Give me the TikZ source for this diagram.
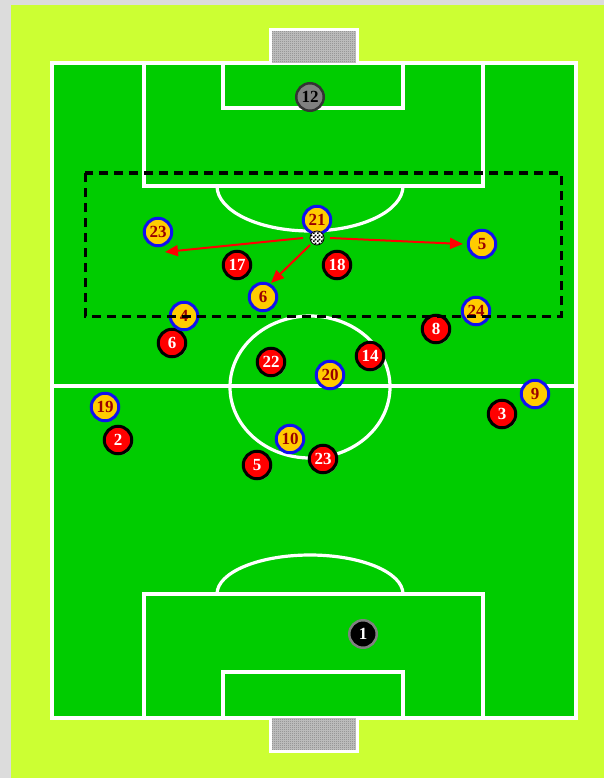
\documentclass[tikz,border=0pt]{standalone}
\usepackage{fontspec}
\setmainfont{Liberation Serif}
\usetikzlibrary{arrows.meta,patterns,shadows}
\pgfdeclarepatternformonly{finecheck}{\pgfqpoint{0pt}{0pt}}{\pgfqpoint{2pt}{2pt}}{\pgfqpoint{2pt}{2pt}}{%
  \pgfpathrectangle{\pgfqpoint{0pt}{0pt}}{\pgfqpoint{1pt}{1pt}}%
  \pgfpathrectangle{\pgfqpoint{1pt}{1pt}}{\pgfqpoint{1pt}{1pt}}%
  \pgfusepath{fill}}
\pgfdeclarepatternformonly{ballcheck}{\pgfqpoint{0pt}{0pt}}{\pgfqpoint{3.6pt}{3.6pt}}{\pgfqpoint{3.6pt}{3.6pt}}{%
  \pgfpathrectangle{\pgfqpoint{0pt}{0pt}}{\pgfqpoint{1.8pt}{1.8pt}}%
  \pgfpathrectangle{\pgfqpoint{1.8pt}{1.8pt}}{\pgfqpoint{1.8pt}{1.8pt}}%
  \pgfusepath{fill}}
\definecolor{bgout}{HTML}{DCDCDC}
\definecolor{bgyel}{HTML}{CCFF33}
\definecolor{pitch}{HTML}{00CC00}
\definecolor{ygold}{HTML}{FFCC00}
\definecolor{yblue}{HTML}{1010F0}
\definecolor{ynum}{HTML}{990000}
\definecolor{rred}{HTML}{FF0000}
\definecolor{netbase}{HTML}{C4C4C4}
\begin{document}
\begin{tikzpicture}[x=1pt,y=-1pt,
  fieldline/.style={draw=white,line width=3.2pt},
  player/.style={circle,minimum size=27.5pt,inner sep=0pt,line width=3pt,
    font=\fontsize{17}{17}\selectfont\bfseries},
  yp/.style={player,fill=ygold,draw=yblue,text=ynum},
  rp/.style={player,fill=rred,draw=black,text=white,
    drop shadow={shadow xshift=1.5pt,shadow yshift=-1.5pt,opacity=0.5}},
  gkgray/.style={player,fill=gray,draw=black!80,text=black,line width=2.5pt},
  gkblack/.style={player,fill=black,draw=gray,text=white,line width=2.5pt},
  pass/.style={draw=red,line width=2pt,-{Triangle[length=13pt,width=11pt]}},
  zone/.style={draw=black,line width=3pt,dash pattern=on 9pt off 6pt}]
\useasboundingbox (0,0) rectangle (604,778);
% backgrounds
\fill[bgout] (0,0) rectangle (604,778);
\fill[bgyel] (11,5) rectangle (604,778);
% pitch
\fill[pitch] (52,63) rectangle (576,718);
\draw[fieldline] (52,63) rectangle (576,718);
\draw[fieldline] (52,386) -- (576,386);
\draw[fieldline] (310,387) ellipse [x radius=80pt,y radius=71pt];
% top boxes
\draw[fieldline] (144,63) rectangle (483,186);
\draw[fieldline] (223,63) rectangle (403,108);
\draw[fieldline] (217,186) arc[start angle=180,end angle=360,x radius=93pt,y radius=45pt];
% bottom boxes
\draw[fieldline] (144,594) rectangle (483,718);
\draw[fieldline] (223,672) rectangle (403,718);
\draw[fieldline] (217,594) arc[start angle=180,end angle=0,x radius=93pt,y radius=39pt];
% goals
\fill[netbase] (270,30) rectangle (357,63);
\fill[pattern=finecheck,pattern color=gray] (270,30) rectangle (357,63);
\draw[white,line width=3pt] (270,63) -- (270,30) -- (357,30) -- (357,63);
\fill[netbase] (270,718) rectangle (357,751);
\fill[pattern=finecheck,pattern color=gray] (270,718) rectangle (357,751);
\draw[white,line width=3pt] (270,718) -- (270,751) -- (357,751) -- (357,718);
% pass targets
\coordinate (p1s) at (303,238);
\coordinate (p1e) at (165,252);
\coordinate (p2s) at (310,245);
\coordinate (p2e) at (271,283);
\coordinate (p3s) at (330,238);
\coordinate (p3e) at (463,244);
\draw[pass] (p1s) -- (p1e);
\draw[pass] (p2s) -- (p2e);
\draw[pass] (p3s) -- (p3e);
% goalkeepers
\node[gkgray] (g12) at (310,97) {12};
\node[gkblack] (g1) at (363,634) {1};
% red team
\node[rp] (r17) at (237,265) {17};
\node[rp] (r18) at (337,265) {18};
\node[rp] (r6) at (172,343) {6};
\node[rp] (r8) at (436,329) {8};
\node[rp] (r22) at (271,362) {22};
\node[rp] (r14) at (370,356) {14};
\node[rp] (r3) at (502,414) {3};
\node[rp] (r2) at (118,440) {2};
\node[rp] (r23) at (323,459) {23};
\node[rp] (r5) at (257,465) {5};
% yellow team
\node[yp] (y21) at (317,220) {21};
\node[yp] (y23) at (158,232) {23};
\node[yp] (y5) at (482,244) {5};
\node[yp] (y6) at (263,297) {6};
\node[yp] (y4) at (184,316) {4};
\node[yp] (y24) at (476,311) {24};
\node[yp] (y20) at (330,375) {20};
\node[yp] (y19) at (105,407) {19};
\node[yp] (y9) at (535,394) {9};
\node[yp] (y10) at (290,439) {10};
% ball
\node[circle,minimum size=14pt,inner sep=0pt,fill=white,draw=black,line width=0.8pt] (ball) at (317,238) {};
\fill[pattern=ballcheck,pattern color=black] (317,238) circle[radius=6.5pt];
% attacking zone
\draw[zone] (85,173) rectangle (561,316);
\end{tikzpicture}
\end{document}
